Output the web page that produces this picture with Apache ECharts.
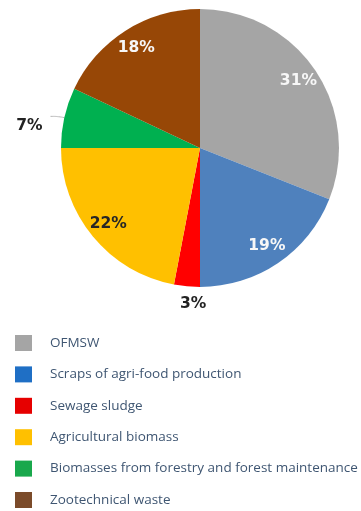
<!DOCTYPE html>
<html>
<head>
<meta charset="utf-8">
<script src="https://cdn.jsdelivr.net/npm/echarts@6/dist/echarts.min.js"></script>
<style>
  html, body { margin: 0; padding: 0; background: #ffffff; }
  #chart { width: 361px; height: 511px; }
</style>
</head>
<body>
<div id="chart"></div>
<script>
// Biomass sources, share of total (%)
const categories = [
  'OFMSW',
  'Scraps of agri-food production',
  'Sewage sludge',
  'Agricultural biomass',
  'Biomasses from forestry and forest maintenance',
  'Zootechnical waste'
];
const shares = [31, 19, 3, 22, 7, 18];

const sliceColors = ['#a5a5a5', '#4f81bd', '#ff0000', '#ffc000', '#00b050', '#974706'];
const legendColors = ['#a5a5a5', '#1f6fc5', '#e60000', '#ffc000', '#19a84c', '#7b4b2a'];
// label colour inside a slice; null = label placed outside the pie
const innerLabelColors = ['#f7f7f7', '#f7f7f7', null, '#262626', null, '#f7f7f7'];

const chart = echarts.init(document.getElementById('chart'), null, { renderer: 'canvas' });

const labelFont = {
  fontFamily: 'DejaVu Sans',
  fontWeight: 'bold',
  fontSize: 15.5,
  formatter: '{c}%'
};

const mainData = categories.map((name, i) => {
  const outside = innerLabelColors[i] === null;
  const item = {
    name: name,
    value: shares[i],
    itemStyle: { color: sliceColors[i] },
    label: { show: outside }
  };
  if (outside) {
    item.labelLine = shares[i] <= 3
      ? { show: false, length: 6, length2: 0 }
      : { show: true, length: 6, length2: 8, lineStyle: { color: '#b8b8b8', width: 1 } };
  }
  return item;
});

// overlay ring that only carries the in-slice labels, placed near the rim
const labelRingData = categories.map((name, i) => ({
  name: name,
  value: shares[i],
  label: innerLabelColors[i] === null ? { show: false } : { show: true, color: innerLabelColors[i] }
}));

// small nudges for the two outside labels
const outsideNudge = { 2: { dx: 25, dy: 12 }, 4: { dx: -3, dy: 10 } };

chart.setOption({
  animation: false,
  backgroundColor: '#ffffff',
  legend: {
    orient: 'vertical',
    left: 15,
    top: 335,
    padding: 0,
    itemWidth: 17,
    itemHeight: 16,
    itemGap: 15.4,
    icon: 'rect',
    selectedMode: false,
    textStyle: {
      fontFamily: 'Open Sans',
      fontSize: 13.5,
      color: '#3f5672',
      padding: [0, 0, 0, 13]
    },
    data: categories.map((name, i) => ({ name: name, itemStyle: { color: legendColors[i] } }))
  },
  series: [
    {
      type: 'pie',
      center: [200, 148],
      radius: [0, 139],
      startAngle: 90,
      clockwise: true,
      silent: true,
      data: mainData,
      label: Object.assign({ position: 'outside', color: '#222222' }, labelFont),
      labelLine: { smooth: 0.5 },
      labelLayout: function (p) {
        return outsideNudge[p.dataIndex] || {};
      },
      itemStyle: { borderWidth: 0 }
    },
    {
      type: 'pie',
      center: [200, 148],
      radius: [93, 139],
      startAngle: 90,
      clockwise: true,
      silent: true,
      legendHoverLink: false,
      data: labelRingData,
      itemStyle: { color: 'rgba(0,0,0,0)', borderWidth: 0 },
      label: Object.assign({ position: 'inside' }, labelFont),
      labelLine: { show: false }
    }
  ]
});
</script>
</body>
</html>
